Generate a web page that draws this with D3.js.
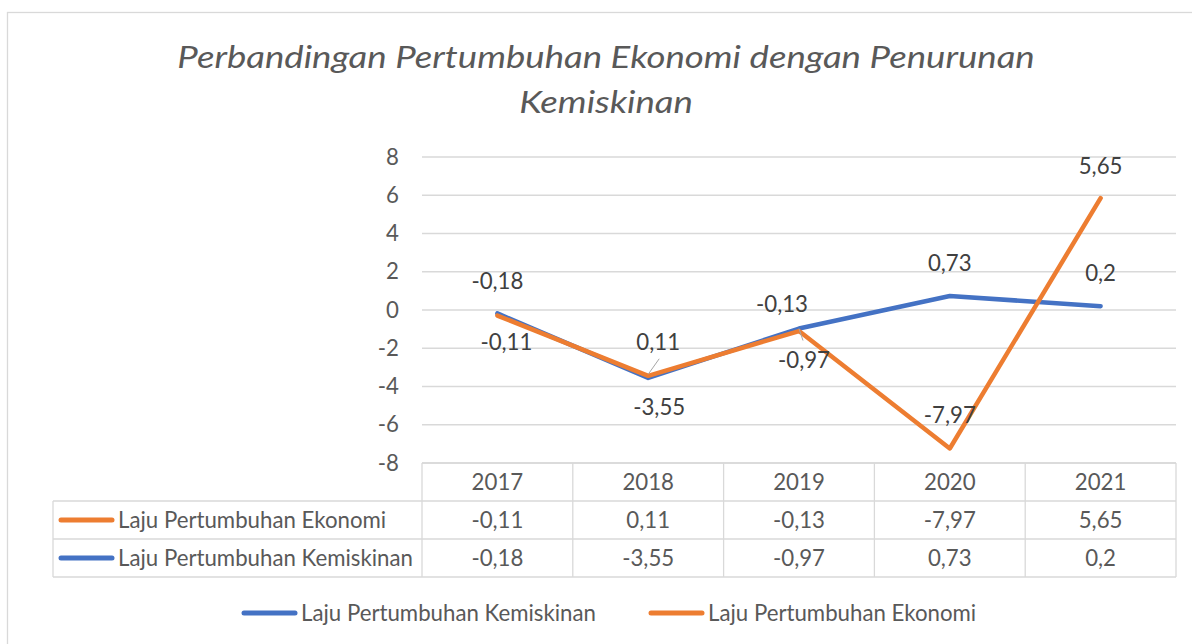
<!DOCTYPE html>
<html><head><meta charset="utf-8">
<script src="https://cdn.jsdelivr.net/npm/d3@7"></script>
<style>body{margin:0;background:#fff} svg{display:block}</style>
</head><body><svg id="c" width="1192" height="644"></svg>
<script>
// ---------- data ----------
const years = ["2017", "2018", "2019", "2020", "2021"];
const kemiskinan = [-0.18, -3.55, -0.97, 0.73, 0.2];
const ekonomi = [-0.11, 0.11, -0.13, -7.97, 5.65];
const seriesKeys = ["kemiskinan", "ekonomi"];
const seriesNames = { kemiskinan: "Laju Pertumbuhan Kemiskinan", ekonomi: "Laju Pertumbuhan Ekonomi" };
const yTicks = [8, 6, 4, 2, 0, -2, -4, -6, -8];
const titleLines = ["Perbandingan Pertumbuhan Ekonomi dengan Penurunan", "Kemiskinan"];

// ---------- styling / layout ----------
const colors = { kemiskinan: "#4472C4", ekonomi: "#ED7D31" };
const gridColor = "#d9d9d9";
const textColor = "#595959";
const labelColor = "#404040";
const FONT = "Lato, 'Open Sans', sans-serif";
// label offsets (px) relative to each plotted point: [dx, dy, leader]
const labelOffsets = {
  kemiskinan: [[0, -32, null], [11, 29, null], [5, 31, "up"], [0, -33, null], [0, -33, null]],
  ekonomi:    [[9, 26, null], [10, -34, "down"], [-17, -27, null], [0, -33, null], [0, -32, null]]
};

const svg = d3.select("#c");
const rows = years.map((y, i) => ({ year: y, kemiskinan: kemiskinan[i], ekonomi: ekonomi[i] }));
const stacked = d3.stack().keys(seriesKeys).order(d3.stackOrderNone).offset(d3.stackOffsetNone)(rows);

function measure(text, weight, style, size) {
  const t = svg.append("text").attr("font-family", FONT).attr("font-weight", weight)
    .attr("font-style", style).attr("font-size", size).text(text);
  const w = t.node().getComputedTextLength(); t.remove();
  return w;
}
const fs = 20 * 295 / measure("Laju Pertumbuhan Kemiskinan", 400, "normal", 20);
const titleFs = 31;
const titleSx = 858 / measure(titleLines[0], 400, "italic", titleFs);
const capHalf = 0.36 * fs;

// outer border
svg.append("rect").attr("x", 7.5).attr("y", 12.5).attr("width", 1250).attr("height", 700)
  .attr("fill", "#fff").attr("stroke", gridColor).attr("stroke-width", 1.3);

// title (horizontally condensed to mimic the narrow original face)
svg.append("g").attr("transform", `translate(606,0) scale(${titleSx},1)`)
  .selectAll("text").data(titleLines).join("text")
  .attr("x", 0).attr("y", (d, i) => 68 + i * 45)
  .attr("text-anchor", "middle").attr("font-family", FONT).attr("font-weight", 400)
  .attr("font-style", "italic").attr("font-size", titleFs).attr("fill", textColor).text(d => d);

// scales
const x = d3.scaleBand().domain(years).range([422, 1176]);
const y = d3.scaleLinear().domain([-8, 8]).range([463, 157]);
const cx = d => x(d) + x.bandwidth() / 2;

// grid
svg.append("g").selectAll("line").data(yTicks).join("line")
  .attr("x1", 422).attr("x2", 1176).attr("y1", d => y(d)).attr("y2", d => y(d))
  .attr("stroke", gridColor).attr("stroke-width", 1.3);

// y axis labels
const yAxis = d3.axisLeft(y).tickValues(yTicks).tickSize(0).tickPadding(0).tickFormat(d => String(d));
const ga = svg.append("g").attr("transform", "translate(399,0)").call(yAxis);
ga.select(".domain").remove();
ga.selectAll("text").attr("font-family", FONT).attr("font-size", fs).attr("fill", textColor);

// data table
const rowH = 38, tTop = 463, tLeft = 53;
const rowY = [tTop, tTop + rowH, tTop + 2 * rowH, tTop + 3 * rowH];
const tg = svg.append("g");
tg.append("line").attr("x1", 422).attr("x2", 1176).attr("y1", rowY[0]).attr("y2", rowY[0]);
[1, 2, 3].forEach(i => tg.append("line").attr("x1", tLeft).attr("x2", 1176).attr("y1", rowY[i]).attr("y2", rowY[i]));
tg.append("line").attr("x1", tLeft).attr("x2", tLeft).attr("y1", rowY[1]).attr("y2", rowY[3]);
years.forEach(yr => tg.append("line").attr("x1", x(yr)).attr("x2", x(yr)).attr("y1", rowY[0]).attr("y2", rowY[3]));
tg.append("line").attr("x1", 1176).attr("x2", 1176).attr("y1", rowY[0]).attr("y2", rowY[3]);
tg.selectAll("line").attr("stroke", gridColor).attr("stroke-width", 1.3);

const fmt = v => String(v).replace(".", ",");
tg.append("g").selectAll("text").data(years).join("text")
  .attr("x", d => cx(d)).attr("y", (rowY[0] + rowY[1]) / 2 + capHalf)
  .attr("text-anchor", "middle").attr("font-family", FONT).attr("font-size", fs).attr("fill", textColor).text(d => d);
const tableSeries = ["ekonomi", "kemiskinan"];
const seriesData = { kemiskinan, ekonomi };
tableSeries.forEach((k, r) => {
  const mid = (rowY[r + 1] + rowY[r + 2]) / 2;
  tg.append("line").attr("x1", 61).attr("x2", 112).attr("y1", mid).attr("y2", mid)
    .attr("stroke", colors[k]).attr("stroke-width", 5).attr("stroke-linecap", "round");
  tg.append("text").attr("x", 118).attr("y", mid + capHalf).attr("font-family", FONT).attr("font-size", fs)
    .attr("fill", textColor).text(seriesNames[k]);
  tg.append("g").selectAll("text").data(seriesData[k]).join("text")
    .attr("x", (d, i) => cx(years[i])).attr("y", mid + capHalf).attr("text-anchor", "middle")
    .attr("font-family", FONT).attr("font-size", fs).attr("fill", textColor).text(d => fmt(d));
});

// lines (stacked)
const line = d3.line().x(d => cx(d.data.year)).y(d => y(d[1]));
stacked.forEach(s => {
  svg.append("path").datum(s).attr("d", line).attr("fill", "none")
    .attr("stroke", colors[s.key]).attr("stroke-width", 4.5)
    .attr("stroke-linecap", "round").attr("stroke-linejoin", "round");
});

// leaders + labels
stacked.forEach(s => {
  s.forEach((d, i) => {
    const [dx, dy, leader] = labelOffsets[s.key][i];
    const px = cx(d.data.year), py = y(d[1]);
    const lx = px + dx, ly = py + dy;
    if (leader === "down") {
      svg.append("line").attr("x1", lx + 1).attr("y1", ly + 17).attr("x2", px).attr("y2", py - 1.5)
        .attr("stroke", "#a6a6a6").attr("stroke-width", 1);
    } else if (leader === "up") {
      svg.append("line").attr("x1", lx - 1).attr("y1", ly - 19).attr("x2", px).attr("y2", py)
        .attr("stroke", "#a6a6a6").attr("stroke-width", 1);
    }
    svg.append("text").attr("x", lx).attr("y", ly + capHalf).attr("text-anchor", "middle")
      .attr("font-family", FONT).attr("font-size", fs).attr("fill", labelColor)
      .text(fmt(seriesData[s.key][i]));
  });
});

// bottom legend
const legendItems = [{ key: "kemiskinan", x: 242 }, { key: "ekonomi", x: 649 }];
const lg = svg.append("g");
legendItems.forEach(it => {
  lg.append("line").attr("x1", it.x + 2).attr("x2", it.x + 53).attr("y1", 613).attr("y2", 613)
    .attr("stroke", colors[it.key]).attr("stroke-width", 5).attr("stroke-linecap", "round");
  lg.append("text").attr("x", it.x + 59).attr("y", 613 + capHalf).attr("font-family", FONT).attr("font-size", fs)
    .attr("fill", textColor).text(seriesNames[it.key]);
});
</script></body></html>
